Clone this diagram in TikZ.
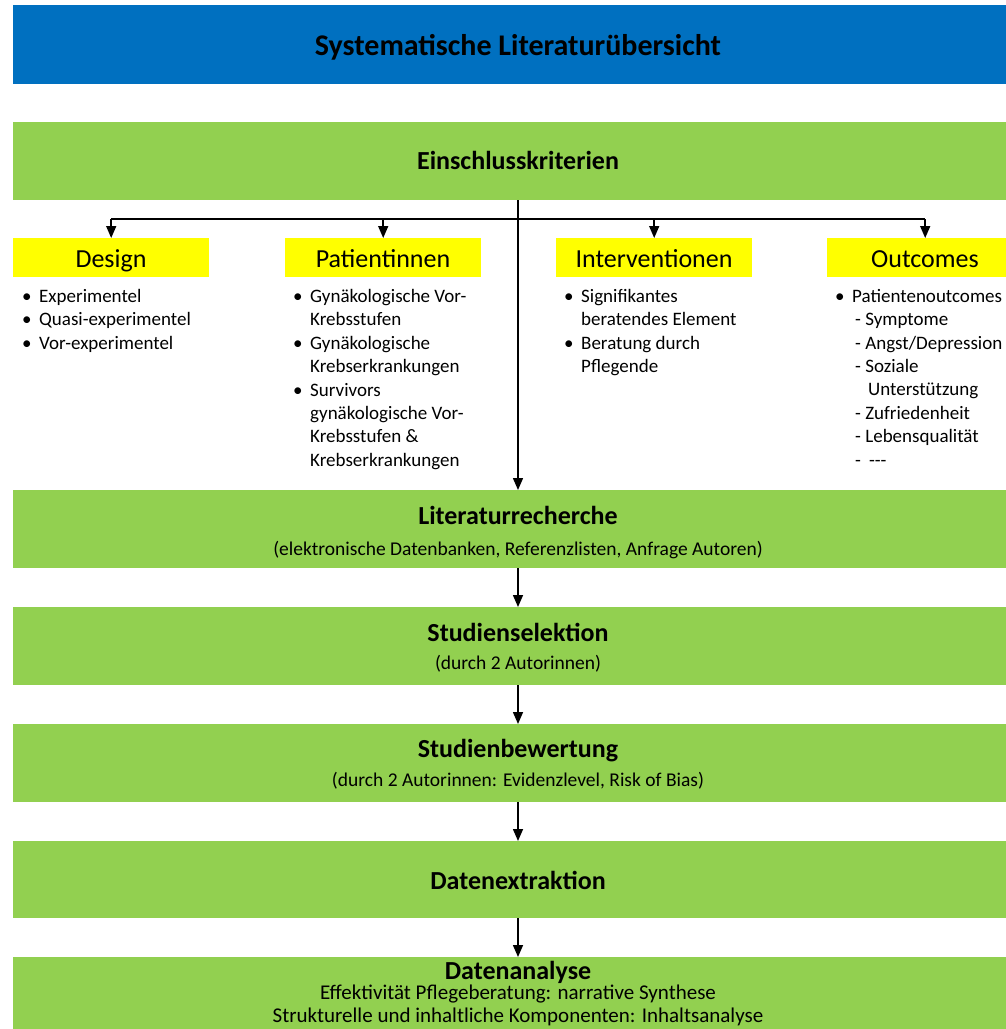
\documentclass[tikz,border=0pt]{standalone}
\usepackage{fontspec}
\setmainfont{Carlito}
\usetikzlibrary{arrows.meta}
\definecolor{hdrblue}{HTML}{0070C0}
\definecolor{stepgreen}{HTML}{92D050}
\definecolor{catyellow}{HTML}{FFFF00}
\newcommand{\bul}{\makebox[17pt][l]{•}}
\newcommand{\cont}{\hspace*{17pt}}
\begin{document}
\begin{tikzpicture}[x=1pt,y=-1pt,
  greenbox/.style={fill=stepgreen, draw=none, minimum width=1010pt, inner sep=0pt, anchor=north west},
  yelbox/.style={fill=catyellow, draw=none, minimum width=196pt, minimum height=39pt, inner sep=0pt, anchor=north west},
  steptitle/.style={font=\fontsize{26}{31}\selectfont\bfseries, inner sep=0pt, anchor=base},
  stepsub/.style={font=\fontsize{19.5}{23}\selectfont, inner sep=0pt, anchor=base},
  cathead/.style={font=\fontsize{26}{31}\selectfont, inner sep=0pt, anchor=base},
  listtext/.style={font=\fontsize{19}{23.4}\selectfont, align=left, inner sep=0pt, anchor=north west},
  arr/.style={line width=1.5pt, -{Triangle[width=10pt,length=12pt]}},
  ln/.style={line width=2pt}]
\useasboundingbox (0,0) rectangle (1005,1029);

% header
\node[fill=hdrblue, minimum width=1010pt, minimum height=79pt, inner sep=0pt, anchor=north west] (banner) at (13,5) {};
\node[font=\fontsize{30}{36}\selectfont\bfseries, inner sep=0pt, anchor=base] (title) at (518,55) {Systematische Literaturübersicht};

% steps
\node[greenbox, minimum height=78pt] (ein) at (13,122) {};
\node[steptitle] (eint) at (518,169) {Einschlusskriterien};

\node[greenbox, minimum height=78pt] (lit) at (13,490) {};
\node[steptitle] (litt) at (518,524) {Literaturrecherche};
\node[stepsub] (lits) at (518,555) {(elektronische Datenbanken, Referenzlisten, Anfrage Autoren)};

\node[greenbox, minimum height=78pt] (sel) at (13,607) {};
\node[steptitle] (selt) at (518,641) {Studienselektion};
\node[stepsub] (sels) at (518,669) {(durch 2 Autorinnen)};

\node[greenbox, minimum height=78pt] (bew) at (13,724) {};
\node[steptitle] (bewt) at (518,757) {Studienbewertung};
\node[stepsub] (bews) at (518,786) {(durch 2 Autorinnen: Evidenzlevel, Risk of Bias)};

\node[greenbox, minimum height=77pt] (ext) at (13,841) {};
\node[steptitle] (extt) at (518,889) {Datenextraktion};

\node[greenbox, minimum height=80pt] (ana) at (13,957) {};
\node[steptitle] (anat) at (518,979) {Datenanalyse};
\node[font=\fontsize{21}{23}\selectfont, inner sep=0pt, anchor=base] (anas1) at (518,999) {Effektivität Pflegeberatung: narrative Synthese};
\node[font=\fontsize{21}{23}\selectfont, inner sep=0pt, anchor=base] (anas2) at (518,1022) {Strukturelle und inhaltliche Komponenten: Inhaltsanalyse};

% categories
\node[yelbox] (design) at (13,238) {};
\node[cathead] (designt) at (111,267) {Design};
\node[yelbox] (pat) at (285,238) {};
\node[cathead] (patt) at (383,267) {Patientinnen};
\node[yelbox] (int) at (556,238) {};
\node[cathead] (intt) at (654,267) {Interventionen};
\node[yelbox] (out) at (827,238) {};
\node[cathead] (outt) at (925,267) {Outcomes};

% lists
\node[listtext] (designl) at (22,289) {\bul Experimentel\\\bul Quasi-experimentel\\\bul Vor-experimentel};
\node[listtext] (patl) at (293,289) {\bul Gynäkologische Vor-\\\cont Krebsstufen\\\bul Gynäkologische\\\cont Krebserkrankungen\\\bul Survivors\\\cont gynäkologische Vor-\\\cont Krebsstufen \&\\\cont Krebserkrankungen};
\node[listtext] (intl) at (564,289) {\bul Signifikantes\\\cont beratendes Element\\\bul Beratung durch\\\cont Pflegende};
\node[listtext] (outl) at (835,289) {\bul Patientenoutcomes\\\hspace*{20pt}- Symptome\\\hspace*{20pt}- Angst/Depression\\\hspace*{20pt}- Soziale\\\hspace*{33pt}Unterstützung\\\hspace*{20pt}- Zufriedenheit\\\hspace*{20pt}- Lebensqualität\\\hspace*{20pt}-\hspace*{8pt}\hbox{-}\hbox{-}\hbox{-}};

% connectors
\coordinate (bl) at (111,219);
\coordinate (br) at (925,219);
\draw[ln] (bl) -- (br);
\draw[arr] (design.north |- bl) -- (design.north);
\draw[arr] (pat.north |- bl) -- (pat.north);
\draw[arr] (int.north |- bl) -- (int.north);
\draw[arr] (out.north |- br) -- (out.north);
\draw[arr] (ein.south -| eint) -- (lit.north -| eint);
\draw[arr] (lit.south -| litt) -- (sel.north -| litt);
\draw[arr] (sel.south -| selt) -- (bew.north -| selt);
\draw[arr] (bew.south -| bewt) -- (ext.north -| bewt);
\draw[arr] (ext.south -| extt) -- (ana.north -| extt);
\end{tikzpicture}
\end{document}
